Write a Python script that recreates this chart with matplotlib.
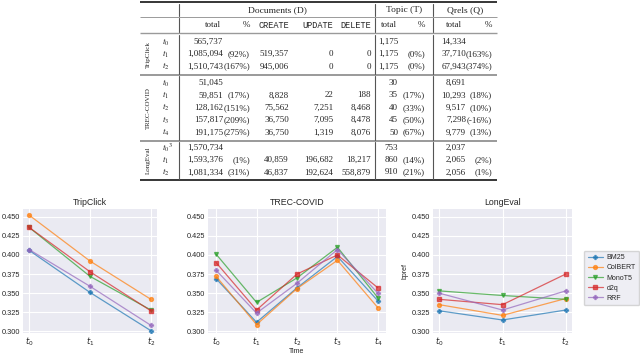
import matplotlib
matplotlib.use('Agg')
import matplotlib.pyplot as plt
import seaborn as sns

# ---- table data
groups = ['TripClick', 'TREC-COVID', 'LongEval']
group_rows = [3, 5, 3]
time_labels = ['$t_0$', '$t_1$', '$t_2$',
               '$t_0$', '$t_1$', '$t_2$', '$t_3$', '$t_4$',
               '$t_0{}^3$', '$t_1$', '$t_2$']
doc_total = ['565,737', '1,085,094', '1,510,743',
             '51,045', '59,851', '128,162', '157,817', '191,175',
             '1,570,734', '1,593,376', '1,081,334']
doc_pct = ['', '(92%)', '(167%)',
           '', '(17%)', '(151%)', '(209%)', '(275%)',
           '', '(1%)', '(31%)']
doc_create = ['', '519,357', '945,006',
              '', '8,828', '75,562', '36,750', '36,750',
              '', '40,859', '46,837']
doc_update = ['', '0', '0',
              '', '22', '7,251', '7,095', '1,319',
              '', '196,682', '192,624']
doc_delete = ['', '0', '0',
              '', '188', '8,468', '8,478', '8,076',
              '', '18,217', '558,879']
topic_total = ['1,175', '1,175', '1,175',
               '30', '35', '40', '45', '50',
               '753', '860', '910']
topic_pct = ['', '(0%)', '(0%)',
             '', '(17%)', '(33%)', '(50%)', '(67%)',
             '', '(14%)', '(21%)']
qrels_total = ['14,334', '37,710', '67,943',
               '8,691', '10,293', '9,517', '7,298', '9,779',
               '2,037', '2,065', '2,056']
qrels_pct = ['', '(163%)', '(374%)',
             '', '(18%)', '(10%)', '(-16%)', '(13%)',
             '', '(2%)', '(1%)']
sub_headers = ['total', '%', 'CREATE', 'UPDATE', 'DELETE', 'total', '%', 'total', '%']
top_headers = ['Documents (D)', 'Topic (T)', 'Qrels (Q)']

# ---- bpref per system (rows: BM25, ColBERT, MonoT5, d2q, RRF)
systems = ['BM25', 'ColBERT', 'MonoT5', 'd2q', 'RRF']
tripclick = [[0.406, 0.351, 0.301],
             [0.452, 0.392, 0.342],
             [0.436, 0.372, 0.328],
             [0.436, 0.378, 0.327],
             [0.407, 0.359, 0.308]]
trec_covid = [[0.369, 0.312, 0.357, 0.398, 0.340],
              [0.372, 0.309, 0.356, 0.393, 0.331],
              [0.401, 0.338, 0.370, 0.410, 0.344],
              [0.390, 0.328, 0.375, 0.400, 0.357],
              [0.380, 0.324, 0.363, 0.407, 0.350]]
longeval = [[0.327, 0.315, 0.328],
            [0.335, 0.321, 0.343],
            [0.353, 0.347, 0.342],
            [0.342, 0.335, 0.375],
            [0.350, 0.328, 0.353]]

sns.set_style('darkgrid')
plt.rcParams['font.family'] = ['Liberation Sans', 'DejaVu Sans']

fig = plt.figure(figsize=(6.4, 3.55), dpi=100)

# ---------------- table (pixel coordinates)
tab = fig.add_axes([0, 0, 1, 1])
tab.set_xlim(0, 640)
tab.set_ylim(355, 0)
tab.axis('off')
tab.patch.set_alpha(0)

serif = ['Liberation Serif', 'DejaVu Serif']
mono = ['Liberation Mono', 'DejaVu Sans Mono']
fs = 6.5

x0, x1 = 140, 497
rules = [(2, 'black', 1.1), (17, '#9a9a9a', 0.7), (33, '#9a9a9a', 1.0),
         (74.5, '#9a9a9a', 1.4), (140.5, '#9a9a9a', 1.4), (180, 'black', 1.1)]
for y, c, lw in rules:
    tab.plot([x0, x1], [y, y], color=c, lw=lw, solid_capstyle='butt')

vlines = [179, 375, 433]
spans = [(3.5, 16), (18, 32), (34.5, 73.5), (75.5, 139.5), (141.5, 179)]
for xv in vlines:
    for a, b in spans:
        tab.plot([xv, xv], [a, b], color='#555555', lw=0.8)

# header rows
for txt, xc in zip(top_headers, [277, 404, 465]):
    tab.text(xc, 10, txt, ha='center', va='center', fontsize=6.8, family=serif)
hdr_x = [221, 250, 289, 333, 371, 397, 425, 462, 492]
for txt, xh in zip(sub_headers, hdr_x):
    if txt.isupper():
        tab.text(xh, 25, txt, ha='right', va='center', fontsize=6.2, family=mono)
    else:
        tab.text(xh, 25, txt, ha='right', va='center', fontsize=fs, family=serif)

# body rows
row_y = [42, 54.3, 66.6,
         83, 95.4, 107.8, 120.2, 132.6,
         148, 160.2, 172.4]
col_x = [223, 250, 289, 333, 371, 398, 425, 466, 492]
columns = [doc_total, doc_pct, doc_create, doc_update, doc_delete,
           topic_total, topic_pct, qrels_total, qrels_pct]
for i, y in enumerate(row_y):
    tab.text(162, y, time_labels[i], ha='left', va='center', fontsize=fs,
             math_fontfamily='stix')
    for col, xc in zip(columns, col_x):
        if col[i]:
            tab.text(xc, y, col[i], ha='right', va='center', fontsize=fs, family=serif)

start = 0
for g, n in zip(groups, group_rows):
    yc = (row_y[start] + row_y[start + n - 1]) / 2
    tab.text(148, yc, g, rotation=90, ha='center', va='center', fontsize=5, family=serif)
    start += n

# ---------------- line plots
colors = ['#1f77b4', '#ff7f0e', '#2ca02c', '#d62728', '#9467bd']
markers = ['P', 'o', 'v', 's', 'P']

panels = [('TripClick', tripclick, [23, 157]),
          ('TREC-COVID', trec_covid, [208, 386]),
          ('LongEval', longeval, [433, 572])]
bottom = 1 - 333 / 355
height = (333 - 209) / 355
axes = []
for title, vals, (l, r) in panels:
    ax = fig.add_axes([l / 640, bottom, (r - l) / 640, height])
    n = len(vals[0])
    xs = list(range(n))
    for k, name in enumerate(systems):
        ax.plot(xs, vals[k], color=colors[k], marker=markers[k], markersize=2.8,
                lw=0.9, alpha=0.7, label=name)
    ax.set_xticks(xs)
    ax.set_xticklabels(['$t_%d$' % i for i in xs])
    ax.set_ylim(0.298, 0.460)
    ax.set_yticks([0.300, 0.325, 0.350, 0.375, 0.400, 0.425, 0.450])
    ax.set_yticklabels(['%.3f' % v for v in ax.get_yticks()])
    ax.tick_params(axis='both', labelsize=5.3, pad=2, length=0)
    ax.tick_params(axis='x', labelsize=6, pad=1.5)
    ax.set_title(title, fontsize=6.3, pad=3)
    for s in ax.spines.values():
        s.set_visible(False)
    axes.append(ax)

axes[1].set_xlabel('Time', fontsize=5, labelpad=0)
axes[2].set_ylabel('bpref', fontsize=5, labelpad=2)
handles, labels = axes[2].get_legend_handles_labels()
leg = fig.legend(handles, labels, loc='center right', bbox_to_anchor=(639 / 640, 1 - 278 / 355),
                 fontsize=5, frameon=True, facecolor='#EAEAF2', edgecolor='#cccccc',
                 handlelength=2.2, handletextpad=0.5, labelspacing=0.45, borderpad=0.5,
                 borderaxespad=0)

fig.savefig('out.png', dpi=100)
